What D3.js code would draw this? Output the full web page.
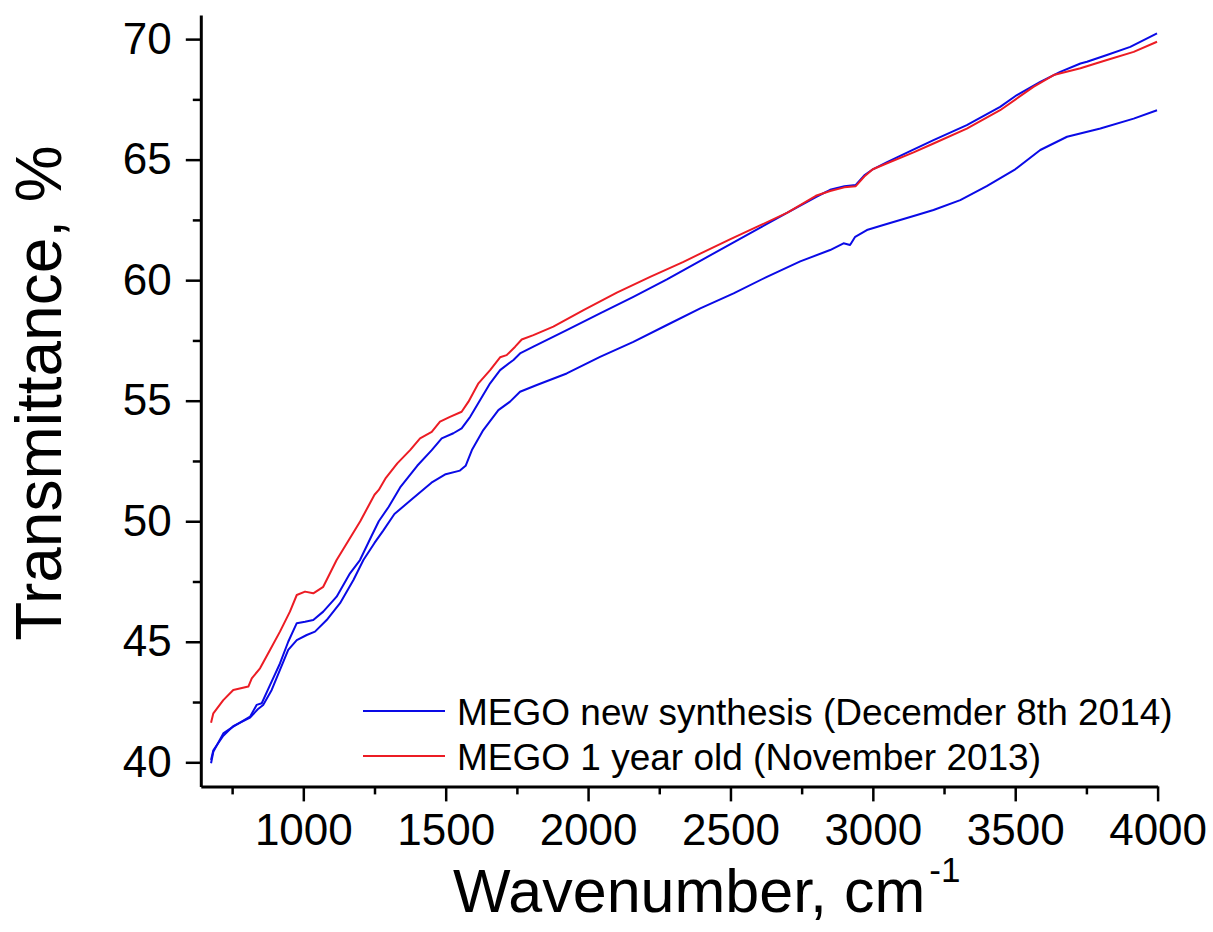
<!DOCTYPE html>
<html>
<head>
<meta charset="utf-8">
<script src="https://cdn.jsdelivr.net/npm/d3@7"></script>
<style>
  html, body { margin: 0; padding: 0; background: #fff; }
  svg { display: block; font-family: "Liberation Sans", Arial, sans-serif; }
</style>
</head>
<body>
<svg id="chart" width="1213" height="932"></svg>
<script>
// ---- Data ----
const newUpperWn = [676, 684, 719, 754, 813, 836, 854, 883, 918, 947, 977, 1006, 1035, 1070, 1117, 1164, 1199, 1240, 1265, 1300, 1340, 1400, 1451, 1486, 1527, 1556, 1586, 1621, 1656, 1691, 1738, 1761, 1808, 1925, 2042, 2159, 2277, 2394, 2500, 2600, 2700, 2800, 2850, 2900, 2940, 2970, 3000, 3050, 3131, 3213, 3330, 3447, 3506, 3588, 3658, 3729, 3752, 3822, 3904, 3998];
const newUpperT  = [39.96, 40.44, 41.2, 41.48, 41.89, 42.38, 42.45, 43.2, 44.1, 45.0, 45.77, 45.83, 45.9, 46.25, 46.87, 47.84, 48.39, 49.4, 50.0, 50.6, 51.4, 52.3, 52.95, 53.44, 53.65, 53.85, 54.33, 55.03, 55.72, 56.27, 56.69, 56.96, 57.24, 57.93, 58.62, 59.31, 60.03, 60.8, 61.5, 62.15, 62.8, 63.45, 63.75, 63.9, 63.95, 64.35, 64.6, 64.9, 65.35, 65.81, 66.43, 67.19, 67.68, 68.23, 68.64, 68.99, 69.06, 69.34, 69.68, 70.24];

const newLowerWn = [676, 684, 719, 754, 813, 840, 859, 889, 918, 947, 977, 1012, 1041, 1082, 1129, 1176, 1211, 1250, 1280, 1320, 1380, 1450, 1500, 1550, 1570, 1592, 1632, 1685, 1726, 1761, 1820, 1925, 2042, 2159, 2277, 2394, 2511, 2628, 2745, 2850, 2897, 2920, 2938, 2979, 3037, 3155, 3213, 3307, 3400, 3500, 3588, 3682, 3799, 3916, 3998];
const newLowerT  = [40.1, 40.5, 41.1, 41.5, 41.85, 42.2, 42.38, 43.0, 43.83, 44.66, 45.07, 45.28, 45.42, 45.9, 46.6, 47.56, 48.39, 49.1, 49.6, 50.3, 50.9, 51.6, 51.95, 52.1, 52.3, 52.95, 53.78, 54.61, 54.96, 55.37, 55.65, 56.13, 56.82, 57.44, 58.14, 58.83, 59.45, 60.14, 60.78, 61.25, 61.53, 61.46, 61.8, 62.08, 62.29, 62.7, 62.91, 63.32, 63.9, 64.6, 65.4, 65.95, 66.29, 66.7, 67.05];

const oldWn = [676, 684, 719, 754, 807, 819, 848, 883, 918, 953, 977, 1006, 1035, 1070, 1117, 1200, 1250, 1265, 1290, 1330, 1375, 1410, 1451, 1480, 1515, 1556, 1580, 1615, 1656, 1691, 1714, 1744, 1767, 1808, 1878, 1984, 2101, 2218, 2335, 2394, 2500, 2600, 2700, 2800, 2850, 2900, 2940, 2970, 3000, 3050, 3143, 3213, 3330, 3447, 3564, 3635, 3729, 3822, 3916, 3998];
const oldT  = [41.64, 42.03, 42.58, 43.0, 43.14, 43.48, 43.9, 44.66, 45.42, 46.25, 46.94, 47.08, 47.01, 47.28, 48.39, 50.0, 51.1, 51.3, 51.8, 52.4, 52.95, 53.44, 53.71, 54.13, 54.33, 54.54, 54.96, 55.72, 56.27, 56.8, 56.89, 57.24, 57.54, 57.72, 58.07, 58.76, 59.48, 60.14, 60.76, 61.1, 61.7, 62.25, 62.8, 63.5, 63.7, 63.85, 63.9, 64.3, 64.6, 64.85, 65.3, 65.67, 66.29, 67.05, 68.02, 68.51, 68.79, 69.13, 69.47, 69.89];

const xMajorTicks = [1000, 1500, 2000, 2500, 3000, 3500, 4000];
const xMinorTicks = [750, 1250, 1750, 2250, 2750, 3250, 3750];
const yMajorTicks = [40, 45, 50, 55, 60, 65, 70];
const yMinorTicks = [42.5, 47.5, 52.5, 57.5, 62.5, 67.5];

const legendLabels = ["MEGO new synthesis (Decemder 8th 2014)", "MEGO 1 year old (November 2013)"];
const xTitle = "Wavenumber, cm";
const xTitleSup = "-1";
const yTitle = "Transmittance, %";

// ---- Drawing ----
const BLUE = "#0a0ae6";
const RED = "#ec1c24";
const svg = d3.select("#chart");

const x = d3.scaleLinear().domain([640, 4000]).range([200.8, 1157.6]);
const y = d3.scaleLinear().domain([39, 71]).range([786.4, 15]);

const series = [
  { wn: newLowerWn, t: newLowerT, color: BLUE },
  { wn: newUpperWn, t: newUpperT, color: BLUE },
  { wn: oldWn, t: oldT, color: RED }
];

const line = d3.line().x(d => x(d[0])).y(d => y(d[1]));

series.forEach(s => {
  svg.append("path")
    .datum(d3.zip(s.wn, s.t))
    .attr("d", line)
    .attr("fill", "none")
    .attr("stroke", s.color)
    .attr("stroke-width", 2)
    .attr("stroke-linejoin", "round");
});

// Axes
const xAxisG = svg.append("g").attr("transform", `translate(0,${y(39)})`);
xAxisG.call(d3.axisBottom(x).tickValues(xMajorTicks).tickSize(15).tickSizeOuter(0).tickPadding(12).tickFormat(d3.format("d")));
const xMinorG = svg.append("g").attr("transform", `translate(0,${y(39)})`);
xMinorG.call(d3.axisBottom(x).tickValues(xMinorTicks).tickSize(8).tickSizeOuter(0).tickFormat(""));
xMinorG.select(".domain").remove();

const yAxisG = svg.append("g").attr("transform", `translate(${x(640)},0)`);
yAxisG.call(d3.axisLeft(y).tickValues(yMajorTicks).tickSize(15).tickSizeOuter(0).tickPadding(14).tickFormat(d3.format("d")));
const yMinorG = svg.append("g").attr("transform", `translate(${x(640)},0)`);
yMinorG.call(d3.axisLeft(y).tickValues(yMinorTicks).tickSize(8).tickSizeOuter(0).tickFormat(""));
yMinorG.select(".domain").remove();

svg.selectAll(".domain").attr("stroke", "#000").attr("stroke-width", 3);
svg.selectAll(".tick line").attr("stroke", "#000").attr("stroke-width", 2.5);
svg.selectAll(".tick text")
  .attr("fill", "#000")
  .style("font-size", "44px")
  .style("font-family", "'Liberation Sans', Arial, sans-serif");
xAxisG.selectAll(".tick text").attr("dy", "0.71em");
yAxisG.selectAll(".tick text").attr("dy", "0.32em");

// Axis titles
const xt = svg.append("text")
  .attr("x", 453).attr("y", 912)
  .style("font-size", "61px").attr("fill", "#000");
xt.append("tspan").text(xTitle);
xt.append("tspan").attr("dx", 4).attr("dy", -30).style("font-size", "35px").text(xTitleSup);

svg.append("text")
  .attr("transform", "translate(61,393) rotate(-90)")
  .attr("text-anchor", "middle")
  .style("font-size", "64px").attr("fill", "#000")
  .text(yTitle);

// Legend
const legendColors = [BLUE, RED];
const legY = [711, 756];
legendLabels.forEach((lab, i) => {
  svg.append("line")
    .attr("x1", 363).attr("x2", 445)
    .attr("y1", legY[i]).attr("y2", legY[i])
    .attr("stroke", legendColors[i]).attr("stroke-width", 2);
  svg.append("text")
    .attr("x", 457).attr("y", legY[i] + 14)
    .style("font-size", "37px").attr("fill", "#000")
    .text(lab);
});
</script>
</body>
</html>
